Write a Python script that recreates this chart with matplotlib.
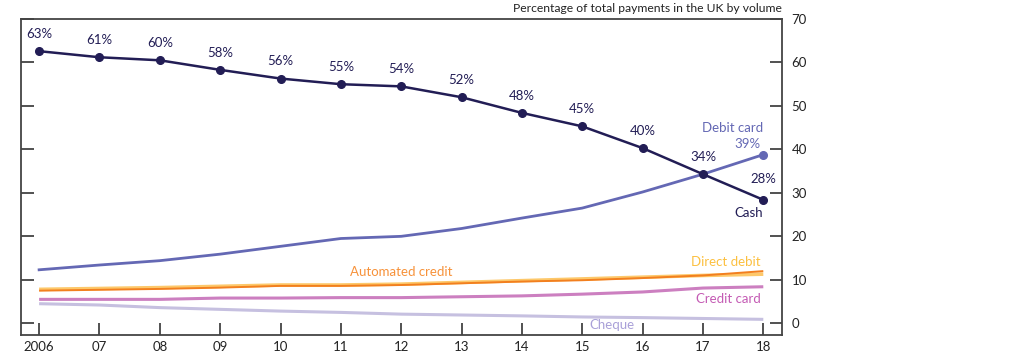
import matplotlib
matplotlib.use("Agg")
import matplotlib.pyplot as plt

plt.rcParams['font.family'] = ['Lato', 'DejaVu Sans']

years = list(range(2006, 2019))
year_labels = ['2006', '07', '08', '09', '10', '11', '12', '13', '14', '15', '16', '17', '18']
cash = [62.6, 61.2, 60.5, 58.3, 56.3, 55.0, 54.5, 52.0, 48.4, 45.3, 40.3, 34.3, 28.4]
cash_labels = ['63%', '61%', '60%', '58%', '56%', '55%', '54%', '52%', '48%', '45%', '40%', '34%', '28%']
debit_card = [12.3, 13.4, 14.4, 15.9, 17.7, 19.5, 20.0, 21.8, 24.2, 26.5, 30.2, 34.3, 38.8]
direct_debit = [7.8, 8.0, 8.2, 8.5, 8.8, 8.8, 9.0, 9.4, 9.8, 10.2, 10.6, 11.0, 11.3]
automated_credit = [7.5, 7.7, 7.9, 8.2, 8.6, 8.6, 8.8, 9.2, 9.6, 9.9, 10.4, 11.0, 12.0]
credit_card = [5.5, 5.5, 5.5, 5.8, 5.8, 5.9, 5.9, 6.1, 6.3, 6.7, 7.2, 8.1, 8.4]
cheque = [4.5, 4.2, 3.6, 3.2, 2.8, 2.5, 2.1, 1.9, 1.7, 1.45, 1.3, 1.1, 0.9]
y_ticks = [0, 10, 20, 30, 40, 50, 60, 70]

c_cash = '#221d55'
c_debit = '#6468b4'
c_dd = '#fdc86a'
c_ac = '#f27f1f'
c_cc = '#cc7fc0'
c_cheque = '#c6c0e0'

fs = 9.5

fig = plt.figure(figsize=(10.27, 3.54), dpi=100)
ax = fig.add_axes([21/1027, 19/354, (782-21)/1027, (335-19)/354])

ax.plot(years, cheque, color=c_cheque, lw=2.2, solid_capstyle='butt')
ax.plot(years, credit_card, color=c_cc, lw=2.2, solid_capstyle='butt')
ax.plot(years, direct_debit, color=c_dd, lw=2.6, solid_capstyle='butt')
ax.plot(years, automated_credit, color=c_ac, lw=1.4, solid_capstyle='butt')
ax.plot(years, debit_card, color=c_debit, lw=2.0)
ax.plot([years[-1]], [debit_card[-1]], 'o', color=c_debit, ms=5.5)
ax.plot(years, cash, color=c_cash, lw=1.8, marker='o', ms=5.5)

for x, y, t in zip(years, cash, cash_labels):
    off = 11 if x == 2018 else 8
    ax.annotate(t, (x, y), xytext=(0, off), textcoords='offset points',
                ha='center', va='bottom', fontsize=fs, color=c_cash)

ax.text(2018.0, 45.0, 'Debit card', ha='right', va='center', fontsize=fs, color=c_debit)
ax.text(2017.95, 41.2, '39%', ha='right', va='center', fontsize=fs, color=c_debit)
ax.text(2018.0, 25.3, 'Cash', ha='right', va='center', fontsize=fs, color=c_cash)
ax.text(2017.95, 14.2, 'Direct debit', ha='right', va='center', fontsize=fs, color='#fcc040')
ax.text(2012.0, 11.7, 'Automated credit', ha='center', va='center', fontsize=fs, color='#f7923a')
ax.text(2017.95, 5.5, 'Credit card', ha='right', va='center', fontsize=fs, color='#c45bb4')
ax.text(2015.5, -0.4, 'Cheque', ha='center', va='center', fontsize=fs, color='#a9a0d8')

ax.set_xlim(2005.70, 2018.31)
ax.set_ylim(-2.7, 70)
ax.set_xticks(years)
ax.set_xticklabels(year_labels)
ax.set_yticks(y_ticks)
ax.set_yticklabels([str(v) for v in y_ticks])

for s in ax.spines.values():
    s.set_color('#444444')
    s.set_linewidth(1.3)

ax.tick_params(axis='x', direction='in', length=9, width=1.1, color='#222222',
               labelsize=fs, pad=4, labelcolor='#222222')
ax.tick_params(axis='y', direction='in', length=9, width=1.1, color='#222222',
               left=True, right=True, labelleft=False, labelright=True,
               labelsize=fs, pad=7, labelcolor='#222222')

fig.text(782/1027, 1 - 3/354, 'Percentage of total payments in the UK by volume',
         ha='right', va='top', fontsize=8.7, color='#222222')

fig.savefig('out.png', dpi=100)
